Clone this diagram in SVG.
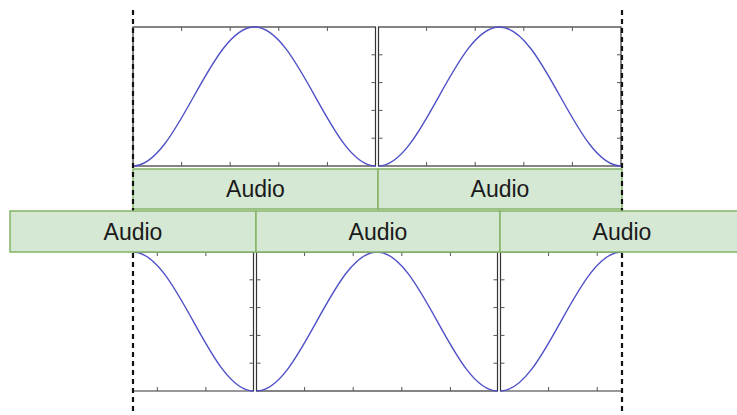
<svg xmlns="http://www.w3.org/2000/svg" width="737" height="415" viewBox="0 0 737 415">
<style>
.frame{fill:none;stroke:#333;stroke-width:1.2}
.tick{fill:none;stroke:#555;stroke-width:1}
.wave{fill:none;stroke:#5050c8;stroke-width:1.4}
.box{fill:#d5e8d4;stroke:#82b366;stroke-width:1.5}
.lbl{font-family:"Liberation Sans",Arial,sans-serif;font-size:23px;fill:#1a1a1a;text-anchor:middle}
.guide{fill:none;stroke:#111;stroke-width:2.2;stroke-dasharray:5 4}
</style>
<rect width="737" height="415" fill="#fff"/>
<g id="plot-top-1">
<rect class="frame" x="133" y="27" width="242.5" height="139"/>
<path class="tick" d="M181.6 27v4M230.2 27v4M278.8 27v4M327.4 27v4M181.6 166v-4M230.2 166v-4M278.8 166v-4M327.4 166v-4M375.5 54.8h-4M375.5 82.6h-4M375.5 110.4h-4M375.5 138.2h-4"/>
<path class="wave" d="M133 166C177.2 166 210.3 27 254.5 27C298.7 27 331.8 166 375.5 166"/>
</g>
<g id="plot-top-2">
<rect class="frame" x="378.5" y="27" width="242.5" height="139"/>
<path class="tick" d="M426.6 27v4M475.2 27v4M523.8 27v4M572.4 27v4M426.6 166v-4M475.2 166v-4M523.8 166v-4M572.4 166v-4M378.5 54.8h4M378.5 82.6h4M378.5 110.4h4M378.5 138.2h4M621 54.8h-4M621 82.6h-4M621 110.4h-4M621 138.2h-4"/>
<path class="wave" d="M378.5 166C422.2 166 455.3 27 499.5 27C543.7 27 576.8 166 621 166"/>
</g>
<g id="plot-bottom-1">
<path class="frame" d="M133 252H253.5V391H133"/>
<path class="tick" d="M157.3 252v4M205.9 252v4M157.3 391v-4M205.9 391v-4M253.5 279.8h-4M253.5 307.6h-4M253.5 335.4h-4M253.5 363.2h-4"/>
<path class="wave" d="M133 252C177 252 210 391 253.5 391"/>
</g>
<g id="plot-bottom-2">
<rect class="frame" x="256.5" y="252" width="241" height="139"/>
<path class="tick" d="M304.6 252v4M353.2 252v4M401.8 252v4M450.4 252v4M304.6 391v-4M353.2 391v-4M401.8 391v-4M450.4 391v-4M256.5 279.8h4M256.5 307.6h4M256.5 335.4h4M256.5 363.2h4M497.5 279.8h-4M497.5 307.6h-4M497.5 335.4h-4M497.5 363.2h-4"/>
<path class="wave" d="M256.5 391C300.2 391 333 252 377 252C421 252 454 391 497.5 391"/>
</g>
<g id="plot-bottom-3">
<path class="frame" d="M622 252H500.5V391H622"/>
<path class="tick" d="M548.6 252v4M597.2 252v4M548.6 391v-4M597.2 391v-4M500.5 279.8h4M500.5 307.6h4M500.5 335.4h4M500.5 363.2h4"/>
<path class="wave" d="M500.5 391C544.2 391 577.3 252 621.5 252"/>
</g>
<g id="audio-top-1">
<rect class="box" x="133" y="169" width="245" height="40"/>
<text class="lbl" x="255.5" y="197">Audio</text>
</g>
<g id="audio-top-2">
<rect class="box" x="378" y="169" width="244" height="40"/>
<text class="lbl" x="500" y="197">Audio</text>
</g>
<g id="connectors">
<line class="guide" x1="133" y1="10" x2="133" y2="415"/>
<line class="guide" x1="622" y1="10" x2="622" y2="415"/>
</g>
<g id="audio-bottom-1">
<rect class="box" x="10" y="211" width="246" height="41"/>
<text class="lbl" x="133" y="240">Audio</text>
</g>
<g id="audio-bottom-2">
<rect class="box" x="256" y="211" width="244" height="41"/>
<text class="lbl" x="378" y="240">Audio</text>
</g>
<g id="audio-bottom-3">
<rect class="box" x="500" y="211" width="246" height="41"/>
<text class="lbl" x="622" y="240">Audio</text>
</g>
</svg>
